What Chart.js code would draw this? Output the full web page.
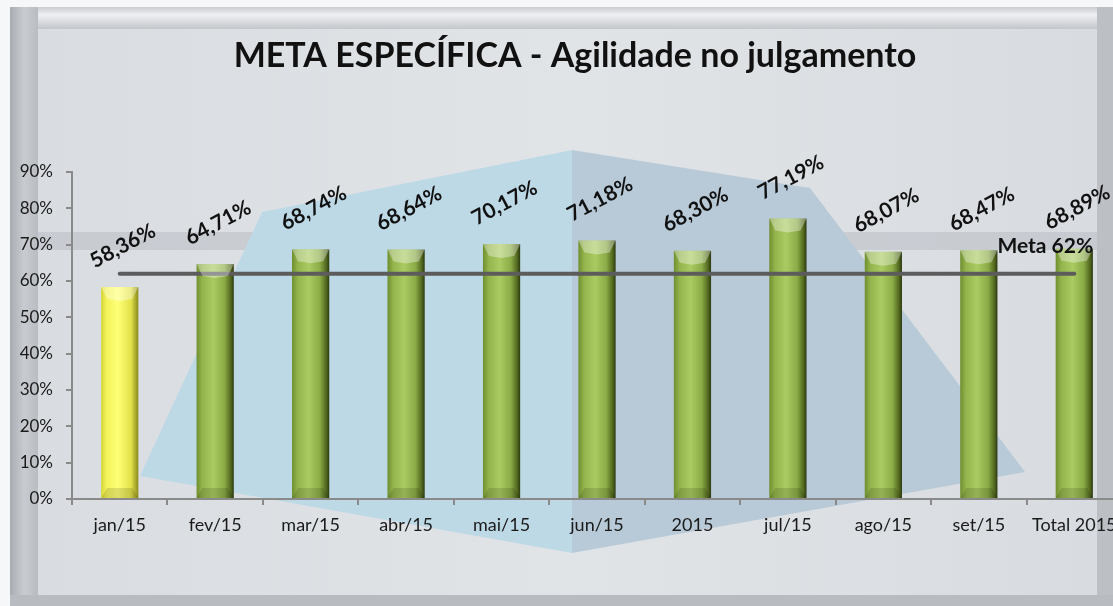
<!DOCTYPE html>
<html>
<head>
<meta charset="utf-8">
<script src="https://cdn.jsdelivr.net/npm/chart.js@4.4.0/dist/chart.umd.min.js"></script>
<style>
  html, body { margin: 0; padding: 0; overflow: hidden; background: #fff; }
  #wrap { position: absolute; left: 0; top: 0; width: 1131px; height: 606px; }
</style>
</head>
<body>
<div id="wrap"><canvas id="myChart" width="1131" height="606"></canvas></div>
<script>
const categories = ['jan/15', 'fev/15', 'mar/15', 'abr/15', 'mai/15', 'jun/15', '2015', 'jul/15', 'ago/15', 'set/15', 'Total 2015'];
const valores = [58.36, 64.71, 68.74, 68.64, 70.17, 71.18, 68.30, 77.19, 68.07, 68.47, 68.89];
const meta = [62, 62, 62, 62, 62, 62, 62, 62, 62, 62, 62];
const yTicks = [0, 10, 20, 30, 40, 50, 60, 70, 80, 90];
const titulo = 'META ESPECÍFICA - Agilidade no julgamento';

const FONT = "Lato, 'Open Sans', sans-serif";

// frame + background picture behind the chart
const fundo = {
  id: 'fundo',
  beforeDraw(chart) {
    const c = chart.ctx;
    c.save();
    c.fillStyle = '#f6f7f8';
    c.fillRect(0, 0, chart.width, chart.height);
    // outer frame
    let g = c.createLinearGradient(0, 7, 0, 29);
    g.addColorStop(0, '#c9ccd0'); g.addColorStop(0.35, '#eef0f2'); g.addColorStop(1, '#c3c6ca');
    c.fillStyle = g;
    c.fillRect(10, 7, 1103, 22);
    g = c.createLinearGradient(10, 0, 38, 0);
    g.addColorStop(0, '#a9acb0'); g.addColorStop(0.5, '#c8cbcf'); g.addColorStop(1, '#b9bcc0');
    c.fillStyle = g;
    c.fillRect(10, 7, 28, 599);
    c.fillStyle = '#bcbfc3';
    c.fillRect(1097, 7, 16, 599);
    c.fillStyle = '#b8bbbf';
    c.fillRect(10, 595, 1103, 11);
    // inner panel
    g = c.createLinearGradient(38, 0, 1097, 0);
    g.addColorStop(0, '#d9dce0'); g.addColorStop(0.5, '#e1e4e7'); g.addColorStop(1, '#d8dbdf');
    c.fillStyle = g;
    c.fillRect(38, 29, 1059, 566);
    // horizontal band
    c.fillStyle = 'rgba(185,190,196,0.55)';
    c.fillRect(38, 232, 1059, 18);
    // blue diamond, left half
    c.fillStyle = '#bdd9e6';
    c.beginPath();
    c.moveTo(572, 150); c.lineTo(572, 553); c.lineTo(140, 476);
    c.lineTo(262, 212); c.closePath(); c.fill();
    // right half
    c.fillStyle = '#b8cad7';
    c.beginPath();
    c.moveTo(572, 150); c.lineTo(810, 188); c.lineTo(1025, 472);
    c.lineTo(572, 553); c.closePath(); c.fill();
    c.restore();
  }
};

// rotated value labels, bar bevels and the title
const rotulos = {
  id: 'rotulos',
  afterDatasetsDraw(chart) {
    const c = chart.ctx;
    const bars = chart.getDatasetMeta(1).data;
    c.save();
    bars.forEach(function(bar, i) {
      const w = bar.width, x = bar.x, y = bar.y, b = bar.base;
      c.fillStyle = 'rgba(255,255,255,0.35)';
      c.beginPath();
      c.moveTo(x - w / 2, y); c.lineTo(x + w / 2, y); c.lineTo(x + w / 2 - 6, y + 12);
      c.lineTo(x, y + 14); c.lineTo(x - w / 2 + 6, y + 12); c.closePath(); c.fill();
      c.fillStyle = 'rgba(0,0,0,0.12)';
      c.beginPath();
      c.moveTo(x - w / 2, b); c.lineTo(x + w / 2, b); c.lineTo(x + w / 2 - 6, b - 10);
      c.lineTo(x - w / 2 + 6, b - 10); c.closePath(); c.fill();

      c.save();
      c.translate(x + 3, y - 41);
      c.rotate(-28 * Math.PI / 180);
      c.font = 'bold 21px ' + FONT;
      c.fillStyle = '#111';
      c.textAlign = 'center';
      c.textBaseline = 'middle';
      c.fillText(valores[i].toFixed(2).replace('.', ',') + '%', 0, 0);
      c.restore();
    });
    const linha = chart.getDatasetMeta(0).data;
    const last = linha[linha.length - 1];
    c.font = 'bold 21px ' + FONT;
    c.fillStyle = '#111';
    c.textAlign = 'center';
    c.textBaseline = 'middle';
    c.fillText('Meta ' + meta[meta.length - 1] + '%', last.x - 29, last.y - 27);

    c.font = 'bold 34px ' + FONT;
    c.fillText(titulo, 575, 56);
    c.restore();
  }
};

function corBarra(ctx) {
  const chart = ctx.chart;
  const i = ctx.dataIndex;
  const amarelo = valores[i] < meta[i];
  if (!chart.chartArea) return amarelo ? '#f6f65a' : '#9fbf56';
  const xs = chart.scales.x;
  const x = xs.getPixelForValue(i);
  const hw = xs.width / categories.length * 0.39 / 2;
  const g = chart.ctx.createLinearGradient(x - hw, 0, x + hw, 0);
  if (amarelo) {
    g.addColorStop(0, '#d6d63a');
    g.addColorStop(0.15, '#f2f25a');
    g.addColorStop(0.45, '#ffff78');
    g.addColorStop(0.8, '#e2e24a');
    g.addColorStop(1, '#8a8a1c');
  } else {
    g.addColorStop(0, '#6f8e2e');
    g.addColorStop(0.15, '#93b34c');
    g.addColorStop(0.45, '#aacb62');
    g.addColorStop(0.75, '#8aab46');
    g.addColorStop(0.92, '#52681f');
    g.addColorStop(1, '#2c3810');
  }
  return g;
}

var ctx = document.getElementById('myChart').getContext('2d');
var myChart = new Chart(ctx, {
  data: {
    labels: categories,
    datasets: [{
      type: 'line',
      label: 'Meta',
      data: meta,
      borderColor: '#5c5c5c',
      borderWidth: 4,
      borderCapStyle: 'round',
      pointRadius: 0,
      fill: false
    }, {
      type: 'bar',
      label: 'Agilidade',
      data: valores,
      backgroundColor: corBarra,
      borderWidth: 0,
      barPercentage: 0.39,
      categoryPercentage: 1
    }]
  },
  options: {
    responsive: false,
    animation: false,
    devicePixelRatio: 1,
    layout: { padding: { left: 0, top: 172, right: 9, bottom: 57 } },
    plugins: {
      legend: { display: false },
      title: { display: false },
      tooltip: { enabled: false }
    },
    scales: {
      x: {
        afterFit: function(s) { s.height = 50; },
        grid: { drawOnChartArea: false, drawTicks: true, tickLength: 6, color: '#8a8a8a', lineWidth: 2 },
        border: { color: '#8a8a8a', width: 2 },
        ticks: { color: '#1a1a1a', font: { family: FONT, size: 18 }, padding: 9, maxRotation: 0, autoSkip: false }
      },
      y: {
        min: 0,
        max: 90,
        afterFit: function(s) { s.width = 72; },
        afterBuildTicks: function(s) { s.ticks = yTicks.map(function(v) { return { value: v }; }); },
        grid: { drawOnChartArea: false, drawTicks: true, tickLength: 6, color: '#8a8a8a', lineWidth: 2 },
        border: { color: '#8a8a8a', width: 2 },
        ticks: { color: '#1a1a1a', font: { family: FONT, size: 17 }, padding: 13, callback: function(v) { return v + '%'; } }
      }
    }
  },
  plugins: [fundo, rotulos]
});
</script>
</body>
</html>
